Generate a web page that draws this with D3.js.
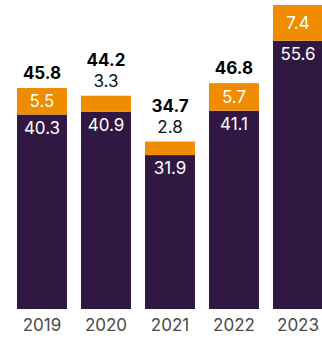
<!DOCTYPE html>
<html>
<head>
<meta charset="utf-8">
<script src="https://cdn.jsdelivr.net/npm/d3@7"></script>
<style>
  html, body { margin: 0; padding: 0; background: #fff; }
  svg { display: block; }
  text { font-family: Inter, "Noto Sans", sans-serif; }
</style>
</head>
<body>
<svg id="chart" width="322" height="338"></svg>
<script>
// Stacked totals per year: base segment (purple) and top segment (orange)
const years = ["2019", "2020", "2021", "2022", "2023"];
const baseValues = [40.3, 40.9, 31.9, 41.1, 55.6];
const topValues = [5.5, 3.3, 2.8, 5.7, 7.4];

const colors = { base: "#301843", top: "#ef8c00" };
const fontSize = 17;

const svg = d3.select("#chart");

const rows = years.map((y, i) => ({
  year: y,
  base: baseValues[i],
  top: topValues[i],
  total: +(baseValues[i] + topValues[i]).toFixed(1)
}));

const stack = d3.stack().keys(["base", "top"]);
const series = stack(rows);

const x = d3.scaleBand()
  .domain(years)
  .range([10, 330])
  .paddingInner(0.21875)
  .paddingOuter(0.109375);

const y = d3.scaleLinear().domain([0, 63]).range([309, 5]);

const fmt = d3.format(".1f");
const smallTop = 4; // orange segments too short to hold their label

// bars
svg.append("g").selectAll("g")
  .data(series)
  .join("g")
  .attr("fill", s => colors[s.key])
  .selectAll("rect")
  .data(s => s)
  .join("rect")
  .attr("x", d => x(d.data.year))
  .attr("width", x.bandwidth())
  .attr("y", d => y(d[1]))
  .attr("height", d => y(d[0]) - y(d[1]));

const cx = d => x(d.year) + x.bandwidth() / 2;

// base segment labels, near the segment top
svg.append("g").selectAll("text")
  .data(rows)
  .join("text")
  .attr("x", cx)
  .attr("y", d => y(d.base) + 19)
  .attr("text-anchor", "middle")
  .attr("font-size", fontSize)
  .attr("fill", "#ffffff")
  .text(d => fmt(d.base));

// top segment labels: inside when it fits, otherwise above the bar
svg.append("g").selectAll("text")
  .data(rows)
  .join("text")
  .attr("x", cx)
  .attr("y", d => d.top < smallTop
    ? y(d.total) - 9
    : (y(d.total) + y(d.base)) / 2 + 6)
  .attr("text-anchor", "middle")
  .attr("font-size", fontSize)
  .attr("fill", d => d.top < smallTop ? "#111" : "#ffffff")
  .text(d => fmt(d.top));

// totals above each bar (kept inside the drawing area)
svg.append("g").selectAll("text")
  .data(rows.filter(d => y(d.total) - 9 > 20))
  .join("text")
  .attr("x", cx)
  .attr("y", d => y(d.total) - (d.top < smallTop ? 30 : 9))
  .attr("text-anchor", "middle")
  .attr("font-size", fontSize)
  .attr("font-weight", 700)
  .attr("fill", "#000")
  .text(d => fmt(d.total));

// year axis
const axis = svg.append("g")
  .attr("transform", `translate(0,${y(0)})`)
  .call(d3.axisBottom(x).tickSize(0).tickPadding(22));
axis.select(".domain").remove();
axis.selectAll("text")
  .attr("font-family", "Inter, 'Noto Sans', sans-serif")
  .attr("font-size", fontSize)
  .attr("fill", "#4a4a4a")
  .attr("dy", "0");
</script>
</body>
</html>
